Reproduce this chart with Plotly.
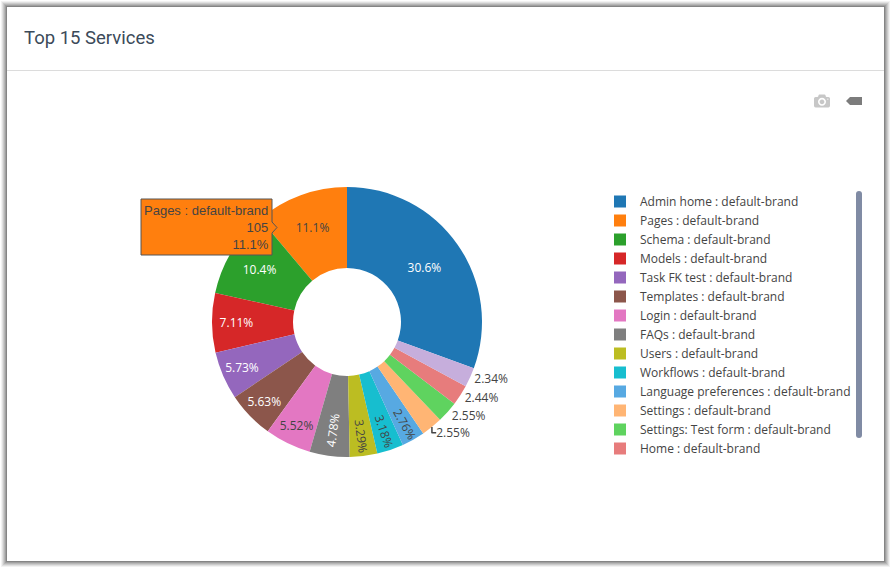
import plotly.graph_objects as go

# services, hit counts (105 = 11.1% gives the total of 942)
services = ["Admin home", "Pages", "Schema", "Models", "Task FK test", "Templates", "Login", "FAQs",
            "Users", "Workflows", "Language preferences", "Settings", "Settings: Test form", "Home", "Tasks"]
counts = [288, 105, 98, 67, 54, 53, 52, 45, 31, 30, 26, 24, 24, 23, 22]
brand = "default-brand"
labels = [s + " : " + brand for s in services]
colorway = ["#1f77b4", "#ff7f0e", "#2ca02c", "#d62728", "#9467bd",
            "#8c564b", "#e377c2", "#7f7f7f", "#bcbd22", "#17becf"]
chart_title = "Top 15 Services"
tooltip_lines = ["Pages : default-brand", "105", "11.1%"]

W, H = 892, 569
ml, mr, mt, mb = 81, 279, 187, 112
card = (7, 7, 884, 561)
shadow_alpha = [0.05, 0.07, 0.09, 0.1, 0.125, 0.16]


def px_x(x):
    return (x - ml) / (W - ml - mr)


def px_y(y):
    return 1 - (y - mt) / (H - mt - mb)


def rect(x0, y0, x1, y1, fill, line=None):
    return dict(type="rect", xref="paper", yref="paper", layer="below",
                x0=px_x(x0), y0=px_y(y0), x1=px_x(x1), y1=px_y(y1),
                fillcolor=fill, line=dict(width=0) if line is None else line)


# card shadow, then card, then header rule
shapes = []
for i, a in enumerate(shadow_alpha):
    d = 6 - i
    shapes.append(rect(card[0] - d, card[1] - d, card[2] + d, card[3] + d, "rgba(0,0,0,%s)" % a))
shapes.append(rect(*card, "#ffffff"))
shapes.append(rect(card[0], 70, card[2], 71, "#dcdcdc"))

# the hover box that is open in the picture
tip_path = "M{},{} L{},{} L{},{} L{},{} L{},{} L{},{} L{},{} Z".format(
    px_x(141), px_y(199), px_x(272), px_y(199), px_x(272), px_y(222), px_x(277), px_y(227.5),
    px_x(272), px_y(233), px_x(272), px_y(255), px_x(141), px_y(255))
shapes.append(dict(type="path", xref="paper", yref="paper", layer="above", path=tip_path,
                   fillcolor="#ff7f0e", line=dict(color="#555555", width=1)))

# 2.76% stays inside its slice in the picture
text_pos = ["auto"] * len(services)
text_pos[services.index("Language preferences")] = "inside"

fig = go.Figure(go.Pie(
    labels=labels,
    values=counts,
    hole=0.4,
    sort=False,
    direction="counterclockwise",
    textinfo="percent",
    textposition=text_pos,
    hoverinfo="label+value+percent",
))

fig.update_layout(
    template=None,
    width=W,
    height=H,
    colorway=colorway,
    paper_bgcolor="#ffffff",
    margin=dict(l=ml, r=mr, t=mt, b=mb, pad=0, autoexpand=False),
    font=dict(family='"Open Sans", verdana, arial, sans-serif', size=12, color="#444444"),
    hovermode="closest",
    title=dict(text=chart_title, xref="container", yref="container", x=24 / W, xanchor="left",
               y=1 - 38 / H, yanchor="middle",
               font=dict(family="Roboto", size=18.5, color="#3b4a59")),
    legend=dict(x=px_x(600), xanchor="left", y=1, yanchor="top", bgcolor="rgba(0,0,0,0)"),
    shapes=shapes,
    annotations=[dict(
        xref="paper", yref="paper", x=px_x(270.5), y=px_y(227.5), xanchor="right", yanchor="middle",
        align="right", showarrow=False, text="<br>".join(tooltip_lines),
        font=dict(family="Liberation Sans, Arial, sans-serif", size=13, color="#444444"),
    )],
)

# page has no margin and the toolbar sits below the card header
post = """
document.body.style.margin = '0';
document.body.style.overflow = 'hidden';
var mb = document.querySelector('.modebar');
if (mb) { mb.style.top = '90px'; mb.style.right = '26px'; }
"""

fig.write_html("out.html", post_script=post, config=dict(
    displayModeBar=True,
    displaylogo=False,
    modeBarButtons=[["toImage"], ["hoverClosestPie"]],
))
